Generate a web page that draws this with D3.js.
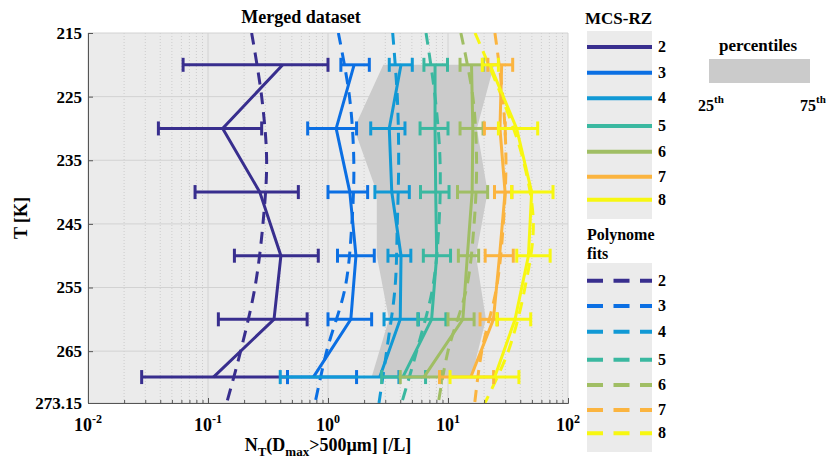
<!DOCTYPE html>
<html><head><meta charset="utf-8">
<script src="https://cdn.jsdelivr.net/npm/d3@7"></script>
<style>
body{margin:0;background:#fff}
</style>
</head><body><svg id="c" width="830" height="466"></svg>
<script>
// ---------------- data ----------------
const classes = ["2","3","4","5","6","7","8"];
const colors = ["#382e8e","#0b6fe3","#1199d5","#3ab8a0","#a0be64","#fbb43f","#f7f711"];
const binTemps = [220, 230, 240, 250, 260, 269.075];
const median = [
  [0.42, 0.1325, 0.27, 0.405, 0.355, 0.111],
  [1.65, 1.17, 1.52, 1.71, 1.55, 0.755],
  [4.06, 3.24, 3.40, 4.06, 4.0, 2.7],
  [7.8, 7.8, 7.9, 8.05, 7.3, 4.2],
  [15.7, 16.1, 15.9, 14.5, 13.3, 6.3],
  [28, 27.1, 29.9, 26.9, 23.9, 15.5],
  [22.4, 37.3, 49.8, 46.8, 36.2, 24.5]
];
const errLow = [
  [0.062, 0.0386, 0.078, 0.166, 0.122, 0.028],
  [1.28, 0.677, 1.0, 1.2, 1.0, 0.46],
  [3.24, 2.27, 2.46, 3.16, 2.93, 0.40],
  [6.3, 5.85, 5.9, 6.23, 5.6, 2.8],
  [12.6, 12.6, 12.0, 12.2, 10.0, 4.0],
  [21.5, 20.1, 24.4, 20.4, 18.5, 8.5],
  [19.3, 26.3, 33.9, 37.4, 25.5, 10.4]
];
const errHigh = [
  [1.0, 0.28, 0.566, 0.83, 0.67, 0.46],
  [2.21, 1.73, 2.14, 2.43, 2.31, 1.73],
  [5.04, 4.38, 4.76, 4.9, 5.66, 3.9],
  [9.9, 10.0, 10.2, 10.5, 9.6, 6.5],
  [19.7, 19.6, 21.4, 18.0, 16.5, 8.8],
  [34.6, 30.0, 34.1, 35.0, 25.8, 24.0],
  [26.3, 55.9, 75.0, 71.0, 48.9, 39.0]
];
const fitTemps = [215, 225, 235, 245, 255, 265, 273.15];
const fitValues = [
  [0.231, 0.28, 0.308, 0.287, 0.246, 0.187, 0.143],
  [1.22, 1.51, 1.64, 1.58, 1.39, 0.975, 0.78],
  [3.46, 3.78, 3.88, 3.78, 3.62, 3.08, 2.66],
  [6.56, 7.8, 8.58, 8.41, 7.46, 5.48, 4.11],
  [12.8, 16.1, 17.3, 16.5, 14.3, 10.0, 8.3],
  [24.6, 28.6, 30.4, 28.9, 25.4, 19.1, 16.7],
  [16.8, 28, 42.4, 51.4, 43.8, 31.8, 20.3]
];
const p25 = [2.89, 1.65, 2.55, 2.55, 3.22, 2.31];
const p75 = [24.2, 17.4, 21.4, 17.1, 20.7, 15.7];
const yTicks = [215, 225, 235, 245, 255, 265, 273.15];
const xTicks = [0.01, 0.1, 1, 10, 100];
const xTickExp = ["-2", "-1", "0", "1", "2"];

// ---------------- layout ----------------
const FONT = "'Liberation Serif', 'Times New Roman', 'DejaVu Serif', serif";
const svg = d3.select("#c");
const L = 88, R = 568, T = 33, B = 403;
const x = d3.scaleLog().domain([0.01, 100]).range([L, R]);
const y = d3.scaleLinear().domain([215, 273.15]).range([T, B]);

function txt(sel, size) {
  return sel.style("font-family", FONT).style("font-weight", "bold").style("font-size", size + "px").attr("fill", "#000");
}

svg.append("rect").attr("x", L).attr("y", T).attr("width", R - L).attr("height", B - T).attr("fill", "#ebebeb");

svg.append("defs").append("clipPath").attr("id", "clip")
  .append("rect").attr("x", L).attr("y", T).attr("width", R - L).attr("height", B - T);

// grid
const minor = [];
for (let d = -2; d < 2; d++) for (let k = 2; k <= 9; k++) minor.push(k * Math.pow(10, d));
const grid = svg.append("g");
grid.selectAll(".mn").data(minor).join("line")
  .attr("x1", d => x(d)).attr("x2", d => x(d)).attr("y1", T).attr("y2", B)
  .attr("stroke", "#c4c4c4").attr("stroke-width", 0.8).attr("stroke-dasharray", "1,2");
grid.selectAll(".mj").data(xTicks).join("line")
  .attr("x1", d => x(d)).attr("x2", d => x(d)).attr("y1", T).attr("y2", B)
  .attr("stroke", "#d2d2d2").attr("stroke-width", 1);
grid.selectAll(".my").data(yTicks).join("line")
  .attr("x1", L).attr("x2", R).attr("y1", d => y(d)).attr("y2", d => y(d))
  .attr("stroke", "#d2d2d2").attr("stroke-width", 1);

const plot = svg.append("g").attr("clip-path", "url(#clip)");

// percentile band
const band = binTemps.map((t, i) => [x(p25[i]), y(t)])
  .concat(binTemps.map((t, i) => [x(p75[i]), y(t)]).reverse());
plot.append("path").attr("d", d3.line()(band) + "Z").attr("fill", "#cbcbcb");

// fits
const fitLine = d3.line().curve(d3.curveCatmullRom).x(d => x(d[1])).y(d => y(d[0]));
fitValues.forEach((vals, s) => {
  plot.append("path").attr("d", fitLine(fitTemps.map((t, i) => [t, vals[i]])))
    .attr("fill", "none").attr("stroke", colors[s]).attr("stroke-width", 3)
    .attr("stroke-dasharray", "12,8");
});

// data lines with error bars
const dataLine = d3.line().x(d => x(d[1])).y(d => y(d[0]));
median.forEach((vals, s) => {
  const g = plot.append("g").attr("stroke", colors[s]).attr("stroke-width", 3).attr("fill", "none");
  binTemps.forEach((t, i) => {
    const yy = y(t), a = x(errLow[s][i]), b = x(errHigh[s][i]);
    g.append("line").attr("x1", a).attr("x2", b).attr("y1", yy).attr("y2", yy);
    g.append("line").attr("x1", a).attr("x2", a).attr("y1", yy - 7).attr("y2", yy + 7);
    g.append("line").attr("x1", b).attr("x2", b).attr("y1", yy - 7).attr("y2", yy + 7);
  });
  g.append("path").attr("d", dataLine(binTemps.map((t, i) => [t, vals[i]])));
});

// axes
const axY = svg.append("g").attr("transform", `translate(${L},0)`)
  .call(d3.axisLeft(y).tickValues(yTicks).tickSize(-5).tickPadding(6).tickFormat(d => d));
axY.attr("font-family", null);
axY.select(".domain").attr("stroke", "#555");
axY.selectAll(".tick line").attr("stroke", "#555");
txt(axY.selectAll(".tick text"), 17);

const axX = svg.append("g").attr("transform", `translate(0,${B})`)
  .call(d3.axisBottom(x).tickValues(xTicks).tickSize(-5).tickFormat(""));
axX.select(".domain").attr("stroke", "#555");
axX.selectAll(".tick line").attr("stroke", "#555");
const axXm = svg.append("g").attr("transform", `translate(0,${B})`)
  .call(d3.axisBottom(x).tickValues(minor).tickSize(-3).tickFormat(""));
axXm.select(".domain").remove();
axXm.selectAll(".tick line").attr("stroke", "#555");

xTicks.forEach((v, i) => {
  const t = txt(svg.append("text").attr("x", x(v)).attr("y", 431).attr("text-anchor", "middle"), 18);
  t.append("tspan").text("10");
  t.append("tspan").attr("dy", -8).style("font-size", "12px").text(xTickExp[i]);
});

// labels
txt(svg.append("text").attr("x", 301).attr("y", 23).attr("text-anchor", "middle"), 18).text("Merged dataset");
txt(svg.append("text").attr("transform", "translate(27,218) rotate(-90)").attr("text-anchor", "middle"), 18).text("T [K]");
const xl = txt(svg.append("text").attr("x", 328).attr("y", 451).attr("text-anchor", "middle"), 18);
xl.append("tspan").text("N");
xl.append("tspan").attr("dy", 5).style("font-size", "13px").text("T");
xl.append("tspan").attr("dy", -5).text("(D");
xl.append("tspan").attr("dy", 5).style("font-size", "13px").text("max");
xl.append("tspan").attr("dy", -5).text(">500µm] [/L]");

// legend 1
const lg1y = [47, 72.7, 98.3, 126, 151.7, 176.7, 199.7];
txt(svg.append("text").attr("x", 585).attr("y", 24), 17).text("MCS-RZ");
svg.append("rect").attr("x", 587).attr("y", 31).attr("width", 65).attr("height", 188).attr("fill", "#ebebeb");
classes.forEach((c, i) => {
  svg.append("line").attr("x1", 587).attr("x2", 652).attr("y1", lg1y[i]).attr("y2", lg1y[i])
    .attr("stroke", colors[i]).attr("stroke-width", 4);
  txt(svg.append("text").attr("x", 658).attr("y", lg1y[i] + 5), 16).text(c);
});

// legend 2
const lg2y = [280.7, 306, 331.7, 359.7, 385, 410, 433.3];
txt(svg.append("text").attr("x", 587).attr("y", 240), 16).text("Polynome");
txt(svg.append("text").attr("x", 587).attr("y", 259), 16).text("fits");
svg.append("rect").attr("x", 587).attr("y", 263).attr("width", 65).attr("height", 189).attr("fill", "#ebebeb");
classes.forEach((c, i) => {
  svg.append("line").attr("x1", 587).attr("x2", 652).attr("y1", lg2y[i]).attr("y2", lg2y[i])
    .attr("stroke", colors[i]).attr("stroke-width", 4).attr("stroke-dasharray", "16,10.5");
  txt(svg.append("text").attr("x", 658).attr("y", lg2y[i] + 5), 16).text(c);
});

// percentile legend
txt(svg.append("text").attr("x", 758).attr("y", 51).attr("text-anchor", "middle"), 17).text("percentiles");
svg.append("rect").attr("x", 709).attr("y", 59).attr("width", 101).attr("height", 24).attr("fill", "#cbcbcb");
[["25", 698], ["75", 800]].forEach(([n, px]) => {
  const t = txt(svg.append("text").attr("x", px).attr("y", 111), 16);
  t.append("tspan").text(n);
  t.append("tspan").attr("dy", -8).style("font-size", "11px").text("th");
});
</script>
</body></html>
